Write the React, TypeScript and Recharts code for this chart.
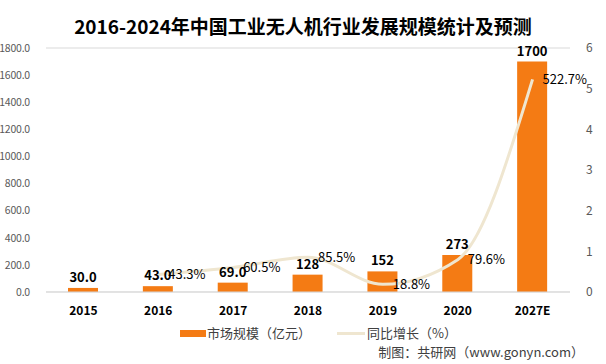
import React from "react";
import { ComposedChart, Bar, Line, XAxis, YAxis, CartesianGrid, LabelList } from "recharts";

const categories = ["2015", "2016", "2017", "2018", "2019", "2020", "2027E"];
const marketSize = [30.0, 43.0, 69.0, 128, 152, 273, 1700];
const marketLabels = ["30.0", "43.0", "69.0", "128", "152", "273", "1700"];
const growth: (number | null)[] = [null, 0.433, 0.605, 0.855, 0.188, 0.796, 5.227];
const growthLabels = ["", "43.3%", "60.5%", "85.5%", "18.8%", "79.6%", "522.7%"];
const leftTicks = [0, 200, 400, 600, 800, 1000, 1200, 1400, 1600, 1800];
const rightTicks = [0, 1, 2, 3, 4, 5, 6];

const data = categories.map((c, i) => ({
  year: c,
  size: marketSize[i],
  sizeLabel: marketLabels[i],
  growth: growth[i],
  growthLabel: growthLabels[i],
}));

const FONT = '"Noto Sans CJK SC", "Noto Sans", sans-serif';
const BAR_COLOR = "#F47B14";
const LINE_COLOR = "#EFE6D0";

export default function App() {
  return (
    <div style={{ position: "absolute", left: 0, top: 0, width: 606, height: 364, background: "#fff", overflow: "hidden" }}>
      <div style={{ position: "absolute", left: 0, top: 12, width: 606, textAlign: "center", fontFamily: FONT, fontWeight: 700, fontSize: 19, color: "#000", lineHeight: "28px" }}>
        2016-2024年中国工业无人机行业发展规模统计及预测
      </div>
      <ComposedChart width={606} height={364} data={data} margin={{ top: 48, right: 0, left: 0, bottom: 42 }}>
        <CartesianGrid vertical={false} stroke="#D9D9D9" />
        <XAxis dataKey="year" axisLine={{ stroke: "#D9D9D9" }} tickLine={false} height={30}
          tick={{ fontFamily: FONT, fontSize: 12, fontWeight: 700, fill: "#000" }} tickMargin={8} />
        <YAxis yAxisId="left" domain={[0, 1800]} ticks={leftTicks} width={46} axisLine={false} tickLine={false}
          tickFormatter={(v: number) => v.toFixed(1)}
          tick={{ fontFamily: FONT, fontSize: 10.5, fill: "#595959", letterSpacing: -0.2 }} tickMargin={10} />
        <YAxis yAxisId="right" orientation="right" domain={[0, 6]} ticks={rightTicks} width={36} axisLine={false} tickLine={false}
          tick={{ fontFamily: FONT, fontSize: 12, fill: "#595959" }} tickMargin={10} />
        <Bar yAxisId="left" dataKey="size" fill={BAR_COLOR} barSize={30} isAnimationActive={false}>
          <LabelList dataKey="sizeLabel" position="top" offset={6}
            style={{ fontFamily: FONT, fontSize: 13, fontWeight: 700, fill: "#000" }} />
        </Bar>
        <Line yAxisId="right" dataKey="growth" type="monotone" stroke={LINE_COLOR} strokeWidth={3} dot={false}
          connectNulls={false} isAnimationActive={false}>
          <LabelList dataKey="growthLabel" position="right" offset={10}
            style={{ fontFamily: FONT, fontSize: 13, fill: "#000" }} />
        </Line>
      </ComposedChart>
      <div style={{ position: "absolute", left: 180, top: 324, display: "flex", alignItems: "center", fontFamily: FONT, fontSize: 13, color: "#404040", lineHeight: "18px" }}>
        <span style={{ display: "inline-block", width: 26, height: 7, background: BAR_COLOR, marginRight: 1 }} />
        <span style={{ marginRight: 26 }}>市场规模（亿元）</span>
        <span style={{ display: "inline-block", width: 28, height: 3, background: LINE_COLOR, marginRight: 2 }} />
        <span>同比增长（%）</span>
      </div>
      <div style={{ position: "absolute", right: 22, top: 343, fontFamily: FONT, fontSize: 13, color: "#404040", lineHeight: "18px" }}>
        制图：共研网（www.gonyn.com）
      </div>
    </div>
  );
}
